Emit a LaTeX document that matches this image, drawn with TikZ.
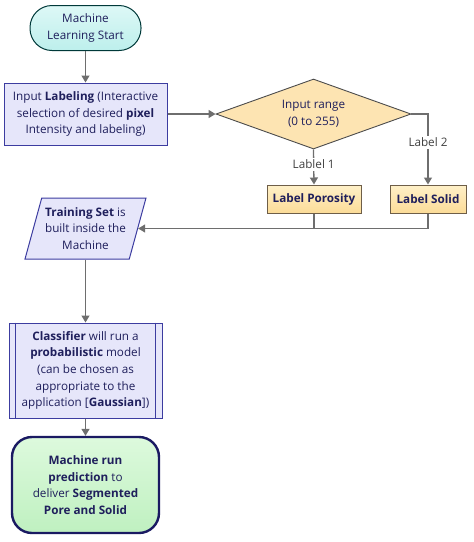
\documentclass[tikz,border=0pt]{standalone}
\usepackage{fontspec}
\setmainfont{Open Sans}
\usetikzlibrary{shapes.geometric,arrows.meta,positioning}
\definecolor{txt}{HTML}{1F1F5C}
\definecolor{arrowc}{HTML}{6E6E6E}
\definecolor{navy}{HTML}{3C3CA0}
\definecolor{lav}{HTML}{E6E6FA}
\definecolor{cyanA}{HTML}{BDEFEC}
\definecolor{cyanB}{HTML}{DDF8F6}
\definecolor{decf}{HTML}{FDE4B2}
\definecolor{labA}{HTML}{FEF0C8}
\definecolor{labB}{HTML}{FCDC98}
\definecolor{labd}{HTML}{6E5E48}
\definecolor{grA}{HTML}{DDFADD}
\definecolor{grB}{HTML}{BFF0C0}
\definecolor{endd}{HTML}{1A1A62}
\begin{document}
\begin{tikzpicture}[x=1pt,y=-1pt,
  every node/.style={font=\fontsize{11.7}{16.7}\selectfont, text=txt, align=center, inner sep=0pt},
  conn/.style={draw=arrowc, line width=1.3pt, -{Triangle[length=7pt,width=8pt]}},
  plain/.style={draw=arrowc, line width=1.3pt},
  startbox/.style={draw=black!55!teal, line width=1pt, rounded corners=22pt, top color=cyanB, bottom color=cyanA, minimum width=111pt, minimum height=45pt},
  procbox/.style={draw=navy, line width=1pt, fill=lav},
  decbox/.style={diamond, draw=black!70, line width=0.9pt, fill=decf, aspect=2.79, minimum width=195pt, minimum height=70pt},
  labbox/.style={draw=labd, line width=1pt, top color=labA, bottom color=labB, minimum height=28pt, font=\fontsize{11.7}{16.7}\selectfont\bfseries},
  databox/.style={trapezium, trapezium left angle=70, trapezium right angle=110, trapezium stretches=true, draw=navy, line width=1pt, fill=lav, minimum width=121pt, minimum height=61pt},
  endbox/.style={draw=endd, line width=2.4pt, rounded corners=20pt, top color=grA, bottom color=grB, minimum width=147pt, minimum height=96pt},
  edgelab/.style={fill=white, text=black!75, inner sep=2pt}
]
\useasboundingbox (0,0) rectangle (474,542);
\node[startbox] (st) at (85.5,28) {Machine\\Learning Start};
\node[procbox, minimum width=163pt, minimum height=62pt] (in) at (85.5,114) {Input \textbf{Labeling} (Interactive\\selection of desired \textbf{pixel}\\Intensity and labeling)};
\node[decbox] (dc) at (313.5,114) {};
\node at (313.5,114) {Input range\\(0 to 255)};
\node[labbox, minimum width=94pt] (lp) at (314,199) {Label Porosity};
\node[labbox, minimum width=76pt] (ls) at (428,199) {Label Solid};
\node[databox] (ts) at (85.5,228.5) {\textbf{Training Set} is\\built inside the\\Machine};
\node[procbox, minimum width=153pt, minimum height=95pt] (cl) at (85.5,370.5) {\textbf{Classifier} will run a\\\textbf{probabilistic} model\\(can be chosen as\\appropriate to the\\application [\textbf{Gaussian}])};
\draw[navy, line width=1pt] ([xshift=7pt]cl.north west) -- ([xshift=7pt]cl.south west);
\draw[navy, line width=1pt] ([xshift=-7pt]cl.north east) -- ([xshift=-7pt]cl.south east);
\node[endbox] (en) at (85.5,485) {\textbf{Machine run}\\\textbf{prediction} to\\deliver \textbf{Segmented}\\\textbf{Pore and Solid}};
\coordinate (j) at (lp.south |- ts.east);
\draw[conn] (st) -- (in);
\draw[conn] (in) -- (dc.west);
\draw[conn] (dc.south) -- node[edgelab, pos=0.42]{Lablel 1} (lp.north);
\draw[conn] (dc.east) -| node[edgelab, pos=0.70]{Label 2} (ls.north);
\draw[plain] (lp.south) -- (j);
\draw[conn] (ls.south) |- (ts.east);
\draw[conn] (ts) -- (cl);
\draw[conn] (cl) -- (en);
\end{tikzpicture}
\end{document}
